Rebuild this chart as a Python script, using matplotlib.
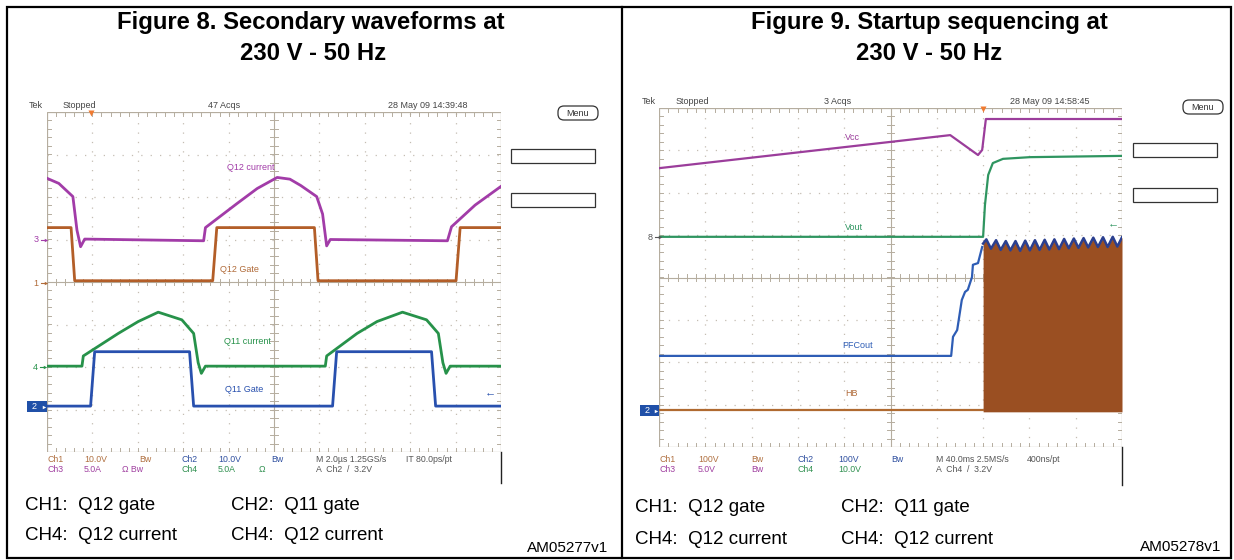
import numpy as np
import matplotlib
matplotlib.use('Agg')
import matplotlib.pyplot as plt
from matplotlib.patches import Rectangle, FancyBboxPatch

plt.rcParams['font.family'] = ['Liberation Sans', 'DejaVu Sans']

# Figure 8 traces, time and level in scope divisions (10 x 8 graticule)
q12_cur_t = [0.00, 0.26, 0.57, 0.66, 0.74, 0.83, 3.45, 3.49, 4.19, 4.63, 5.07,
             5.35, 5.59, 5.94, 6.07, 6.16, 6.24, 8.82, 8.91, 9.43, 10.00]
q12_cur_v = [2.44, 2.32, 2.01, 1.22, 0.83, 1.01, 0.97, 1.28, 1.85, 2.20, 2.46,
             2.42, 2.27, 2.01, 1.60, 0.85, 1.00, 0.97, 1.30, 1.81, 2.25]
q12_gate_t = [0.00, 0.53, 0.61, 3.65, 3.74, 5.89, 5.97, 9.01, 9.10, 10.00]
q12_gate_v = [1.28, 1.28, 0.03, 0.03, 1.28, 1.28, 0.03, 0.03, 1.28, 1.28]
q11_cur_t = [0.00, 0.77, 0.80, 1.57, 2.01, 2.45, 2.97, 3.23, 3.33, 3.40, 3.49,
             6.13, 6.16, 6.83, 7.27, 7.83, 8.36, 8.62, 8.72, 8.79, 8.88, 10.00]
q11_cur_v = [-1.98, -1.98, -1.74, -1.21, -0.93, -0.71, -0.89, -1.21, -1.90, -2.15, -1.98,
             -1.98, -1.74, -1.21, -0.93, -0.71, -0.89, -1.21, -1.90, -2.15, -1.98, -1.98]
q11_gate_t = [0.00, 0.96, 1.05, 3.14, 3.23, 6.29, 6.38, 8.47, 8.56, 10.00]
q11_gate_v = [-2.92, -2.92, -1.64, -1.64, -2.92, -2.92, -1.64, -1.64, -2.92, -2.92]

# Figure 9 traces
vcc_t = [0.00, 6.29, 6.89, 6.98, 7.06, 10.00]
vcc_v = [2.58, 3.36, 2.89, 3.01, 3.74, 3.74]
vout_t = [0.00, 7.00, 7.04, 7.11, 7.21, 7.43, 8.01, 10.00]
vout_v = [0.96, 0.96, 1.71, 2.42, 2.70, 2.80, 2.84, 2.87]
pfc_t = [0.00, 6.31, 6.35, 6.44, 6.54, 6.61, 6.67, 6.76, 6.78, 6.89, 6.98]
pfc_v = [-1.85, -1.85, -1.40, -1.24, -0.53, -0.34, -0.29, 0.01, 0.30, 0.34, 0.72]
pfc_zig_t = [7.00, 7.07, 7.17, 7.28, 7.38, 7.49, 7.59, 7.70, 7.80, 7.91, 8.01, 8.12,
             8.22, 8.33, 8.43, 8.54, 8.64, 8.75, 8.85, 8.96, 9.06, 9.17, 9.27, 9.38,
             9.48, 9.59, 9.69, 9.80, 9.90, 10.00]
pfc_zig_v = [0.80, 0.90, 0.68, 0.88, 0.65, 0.86, 0.64, 0.86, 0.63, 0.87, 0.64, 0.88,
             0.65, 0.89, 0.66, 0.90, 0.67, 0.91, 0.69, 0.92, 0.70, 0.93, 0.71, 0.94,
             0.72, 0.95, 0.72, 0.96, 0.73, 0.95]
hb_t = [0.00, 7.00]
hb_v = [-3.12, -3.12]
hb_floor = -3.17

W, H = 1234, 560
fig = plt.figure(figsize=(W / 100, H / 100), dpi=100)


def px_axes(x0, y0, x1, y1):
    return fig.add_axes([x0 / W, 1 - y1 / H, (x1 - x0) / W, (y1 - y0) / H])


def graticule(ax):
    ax.set_xlim(0, 10)
    ax.set_ylim(-4, 4)
    ax.axis('off')
    dot = '#c4bdb2'
    edge = '#b5ad9f'
    for i in range(1, 10):
        if i != 5:
            ax.plot([i, i], [-4, 4], color=dot, lw=0.9, ls=(0, (1, 6.5)))
    for j in range(-3, 4):
        if j != 0:
            ax.plot([0, 10], [j, j], color=dot, lw=0.9, ls=(0, (1, 6.5)))
    ax.plot([5, 5], [-4, 4], color=edge, lw=0.8)
    ax.plot([0, 10], [0, 0], color=edge, lw=0.8)
    for x in np.arange(0.2, 10, 0.2):
        ax.plot([x, x], [-0.08, 0.08], color=edge, lw=0.7)
        ax.plot([x, x], [4, 3.9], color=edge, lw=0.7)
        ax.plot([x, x], [-4, -3.9], color=edge, lw=0.7)
    for y in np.arange(-3.8, 4, 0.2):
        ax.plot([4.92, 5.08], [y, y], color=edge, lw=0.7)
        ax.plot([0, 0.09], [y, y], color=edge, lw=0.7)
        ax.plot([10, 9.91], [y, y], color=edge, lw=0.7)
    ax.add_patch(Rectangle((0, -4), 10, 8, fill=False, ec=edge, lw=0.9))


# left scope
axl = px_axes(47, 112, 501, 452)
graticule(axl)
axl.plot(q12_cur_t, q12_cur_v, color='#a23ca8', lw=2.0)
axl.plot(q12_gate_t, q12_gate_v, color='#b35e28', lw=2.0)
axl.plot(q11_cur_t, q11_cur_v, color='#27924a', lw=2.0)
axl.plot(q11_gate_t, q11_gate_v, color='#2850ae', lw=2.0)

# right scope
axr = px_axes(659, 108, 1122, 447)
graticule(axr)
axr.fill_between(pfc_zig_t, hb_floor, pfc_zig_v, color='#9a4f22', lw=0, zorder=3)
axr.plot(hb_t, hb_v, color='#b06a30', lw=1.6, zorder=3)
axr.plot(pfc_t, pfc_v, color='#2e5db5', lw=1.6, zorder=4)
axr.plot(pfc_zig_t, pfc_zig_v, color='#2b3f8f', lw=1.8, zorder=4)
axr.plot(vcc_t, vcc_v, color='#9b3d9b', lw=1.6, zorder=4)
axr.plot(vout_t, vout_v, color='#2f9560', lw=1.6, zorder=4)

# overlay in pixel coordinates for frame and texts
ov = fig.add_axes([0, 0, 1, 1])
ov.set_xlim(0, W)
ov.set_ylim(H, 0)
ov.axis('off')
ov.patch.set_alpha(0)

ov.add_patch(Rectangle((7, 7), 1224, 551, fill=False, ec='black', lw=1.6))
ov.plot([622, 622], [7, 558], color='black', lw=1.6)
ov.plot([501, 501], [452, 483], color='#222222', lw=1.0)
ov.plot([1122, 1122], [447, 485], color='#222222', lw=1.0)

ov.text(311, 23, 'Figure 8. Secondary waveforms at', ha='center', va='center',
        fontsize=17.2, weight='bold')
ov.text(313, 54, '230 V - 50 Hz', ha='center', va='center', fontsize=17.2, weight='bold')
ov.text(929, 23, 'Figure 9. Startup sequencing at', ha='center', va='center',
        fontsize=17.2, weight='bold')
ov.text(929, 54, '230 V - 50 Hz', ha='center', va='center', fontsize=17.2, weight='bold')

# scope headers
hdr = '#444444'
for x, s in [(29, 'Tek'), (63, 'Stopped'), (224, '47 Acqs'), (428, '28 May 09 14:39:48'),
             (642, 'Tek'), (676, 'Stopped'), (838, '3 Acqs'), (1050, '28 May 09 14:58:45')]:
    y = 106 if x < 620 else 101
    ha = 'center' if s.endswith('Acqs') or s.startswith('28') else 'left'
    ov.text(x, y, s, fontsize=6.5, color=hdr, ha=ha, va='center')

for x0, y0 in [(558, 106), (1183, 100)]:
    ov.add_patch(FancyBboxPatch((x0, y0), 40, 14, boxstyle='round,pad=0,rounding_size=6',
                                fill=False, ec='#333333', lw=0.9))
    ov.text(x0 + 20, y0 + 7, 'Menu', fontsize=6.5, ha='center', va='center', color='#333333')

for x0, ys in [(511, (149, 193)), (1133, (143, 188))]:
    for y0 in ys:
        ov.add_patch(Rectangle((x0, y0), 84, 14, fill=False, ec='#333333', lw=0.9))

ov.plot(91, 113, marker='v', color='#f07a30', ms=5, mec='none')
ov.plot(983, 109, marker='v', color='#f07a30', ms=5, mec='none')

# trace labels
lab = [(251, 167, 'Q12 current', '#a23ca8'), (239, 270, 'Q12 Gate', '#b06a38'),
       (247, 341, 'Q11 current', '#27924a'), (244, 390, 'Q11 Gate', '#2850ae'),
       (852, 137, 'Vcc', '#9b3d9b'), (854, 227, 'Vout', '#2f9560'),
       (858, 345, 'PFCout', '#2e5db5'), (851, 394, 'HB', '#b06a38')]
for x, y, s, c in lab:
    ov.text(x, y, s, fontsize=6.5, color=c, ha='center', va='center')

# channel markers
for x, y, s, c in [(36, 240, '3', '#a23ca8'), (36, 283, '1', '#b06a38'),
                   (35, 367, '4', '#27924a'), (650, 237, '8', '#555555')]:
    ov.text(x, y, s, fontsize=6.5, color=c, ha='center', va='center')
    ov.plot([x + 5, x + 10], [y, y], color=c, lw=0.8)
    ov.plot(x + 10, y, marker='>', color=c, ms=2.5, mec='none')
for x0, y0, x1 in [(27, 401, 47), (640, 405, 659)]:
    ov.add_patch(Rectangle((x0, y0), x1 - x0, 11, fc='#2050a8', ec='none'))
    ov.text(x0 + 7, y0 + 5.5, '2', fontsize=6.5, color='white', ha='center', va='center')
    ov.plot(x1 - 3, y0 + 5.5, marker='>', color='white', ms=2.5, mec='none')
ov.text(490, 392, '\u2190', fontsize=8, color='#2850ae', ha='center', va='center')
ov.text(1113, 223, '\u2190', fontsize=8, color='#2f9560', ha='center', va='center')

# scope channel settings
c1, c2, c3, c4, cm = '#b07040', '#3050a0', '#a040a0', '#309050', '#555555'
rows = [
    (47, 459, 'Ch1', c1), (84, 459, '10.0V', c1), (139, 459, 'Bw', c1),
    (181, 459, 'Ch2', c2), (218, 459, '10.0V', c2), (271, 459, 'Bw', c2),
    (316, 459, 'M 2.0\u00b5s 1.25GS/s', cm), (406, 459, 'IT 80.0ps/pt', cm),
    (47, 469, 'Ch3', c3), (84, 469, '5.0A', c3), (122, 469, '\u03a9 Bw', c3),
    (181, 469, 'Ch4', c4), (218, 469, '5.0A', c4), (259, 469, '\u03a9', c4),
    (316, 469, 'A  Ch2  /  3.2V', cm),
    (659, 459, 'Ch1', c1), (698, 459, '100V', c1), (751, 459, 'Bw', c1),
    (798, 459, 'Ch2', c2), (838, 459, '100V', c2), (891, 459, 'Bw', c2),
    (936, 459, 'M 40.0ms 2.5MS/s', cm), (1027, 459, '400ns/pt', cm),
    (659, 469, 'Ch3', c3), (698, 469, '5.0V', c3), (751, 469, 'Bw', c3),
    (798, 469, 'Ch4', c4), (838, 469, '10.0V', c4),
    (936, 469, 'A  Ch4  /  3.2V', cm),
]
for x, y, s, c in rows:
    ov.text(x, y, s, fontsize=6.3, color=c, ha='left', va='center')

# channel captions
for x0, y0 in [(25, 505), (635, 508)]:
    ov.text(x0, y0, 'CH1:  Q12 gate', fontsize=13.5, ha='left', va='center')
    ov.text(x0 + 206, y0, 'CH2:  Q11 gate', fontsize=13.5, ha='left', va='center')
    ov.text(x0, y0 + 31, 'CH4:  Q12 current', fontsize=13.5, ha='left', va='center')
    ov.text(x0 + 206, y0 + 31, 'CH4:  Q12 current', fontsize=13.5, ha='left', va='center')
ov.text(568, 548, 'AM05277v1', fontsize=11, ha='center', va='center')
ov.text(1181, 547, 'AM05278v1', fontsize=11, ha='center', va='center')

fig.savefig('out.png', dpi=100)
